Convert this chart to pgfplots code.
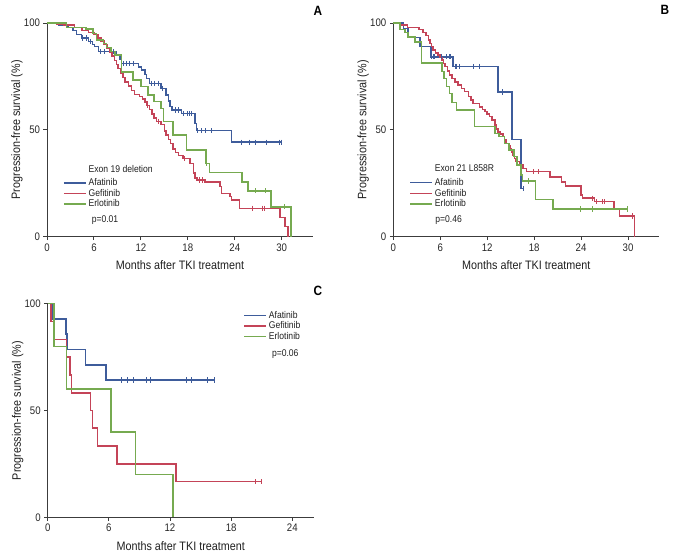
\documentclass[border=0pt]{standalone}
\usepackage{pgfplots}
\pgfplotsset{compat=1.18}
\usepackage{fontspec}
\setmainfont{Liberation Sans}[FakeStretch=0.88]
\definecolor{cblue}{RGB}{62,92,155}
\definecolor{cred}{RGB}{196,68,88}
\definecolor{cgreen}{RGB}{118,170,80}
\definecolor{axgray}{RGB}{60,60,60}
\pgfplotsset{
  kmbase/.style={
    scale only axis, width=266bp, height=213.7bp,
    axis x line=bottom, axis y line=left,
    axis line style={-, axgray, line width=1bp},
    tick style={axgray, line width=0.9bp},
    tick align=outside, major tick length=3.5bp,
    ymin=0, ymax=100, ytick={0,50,100},
    xmin=0,
    clip=false,
    /pgf/number format/assume math mode=true,
    tick label style={font=\fontsize{11}{12}\selectfont, text=black!85},
    xlabel={Months after TKI treatment},
    ylabel={Progression-free survival (\%)},
    every axis x label/.style={at={(axis description cs:0.5,-0.132)}, anchor=center, font=\fontsize{12.3}{13}\selectfont, text=black!88},
    every axis y label/.style={at={(axis description cs:-0.113,0.5)}, rotate=90, anchor=center, font=\fontsize{12.3}{13}\selectfont, text=black!88},
    legend style={draw=none, fill=none, font=\fontsize{9.8}{10}\selectfont, anchor=north west, row sep=-2pt, text=black!88, inner sep=0pt},
    legend cell align=left,
    legend image code/.code={\draw[##1] (0bp,0bp) -- (22bp,0bp);},
  },
  km/.style={const plot, line width=1.5bp, color=#1, no marks},
  cens/.style={only marks, mark=|, mark size=2.6bp, mark options={line width=1bp}, color=#1, forget plot},
}
\begin{document}
\begin{tikzpicture}
\path[use as bounding box] (0,0) rectangle (678bp,559bp);

% ---------------- Panel A ----------------
\begin{axis}[kmbase, at={(47bp,322.3bp)}, anchor=south west, xmax=34, xtick={0,6,...,30},
  legend style={at={(0.06,0.345)}}]
\addlegendimage{empty legend}\addlegendentry{\raisebox{3bp}{Exon 19 deletion}}
\addplot[km=cblue] coordinates {
(0,100)(1.5,99)(2.7,98)(3.3,96.5)(3.8,94.5)(4.4,93)(5.3,91.3)(5.8,90)(6.1,88.9)(6.6,86.6)
(8.9,85)(9.3,83)(9.5,81)(11.7,79.5)(12.1,78)(12.5,76)(12.7,74)(13.1,71.8)(14.6,69.4)
(15.2,66.3)(15.5,63.5)(15.7,61)(16.0,59.3)(17.2,57.7)(18.9,53)(19.1,49.6)(23.6,44.2)(30.1,44.2)};
\addlegendentry{Afatinib}
\addplot[km=cred] coordinates {
(0,100)(1.2,99.5)(2.2,99)(3.5,98)(4.5,96.5)(5.3,95.5)(6.0,94.5)(6.5,93)(6.9,91.5)(7.3,90)
(7.7,88)(8.0,86.5)(8.3,84.5)(8.6,82.5)(8.9,80.5)(9.1,78.8)(9.4,76.5)(9.7,74.5)(10.0,72.5)
(10.4,70.5)(10.8,68.5)(11.2,66.5)(11.8,65.5)(12.2,64.5)(12.5,63)(12.8,61.5)(13.1,59.5)
(13.4,57.5)(13.7,55.5)(14.0,54)(14.6,52.5)(15.0,49.5)(15.2,47.5)(15.5,45.5)(15.8,43.5)
(16.1,41)(16.4,39.5)(16.8,38)(17.4,36.5)(18.3,34.3)(18.7,29.7)(18.9,27.5)(19.2,26.5)
(20.2,25.7)(22.1,23.4)(22.3,20.3)(23.4,18.7)(23.6,17.2)(24.6,13.3)(29.8,9)(30.4,4.7)(30.8,0)(30.8,0)};
\addlegendentry{Gefitinib}
\addplot[km=cgreen] coordinates {
(0,100)(2.5,98)(5.0,97.3)(5.9,95.2)(6.3,92)(7.2,90.5)(7.6,88.5)(8.2,86.6)(8.7,85)
(9.5,77)(11.0,73.3)(12.0,70.2)(12.9,66.3)(13.7,63.2)(14.6,60)(14.9,53.8)(16.1,47.6)
(17.8,40.6)(20.3,34.3)(20.8,30)(24.9,25.7)(25.7,21.5)(28.6,14)(31.2,0)(31.2,0)};
\addlegendentry{Erlotinib}
\addplot[cens=cblue] coordinates {
(4.5,93)(5.0,93)(5.5,91.3)(6.9,86.6)(7.3,86.6)(8.5,86.6)(9.8,81)(10.2,81)(10.6,81)(11.0,81)
(13.4,71.8)(13.8,71.8)(14.2,71.8)(14.7,69.4)(16.4,59.3)(16.8,59.3)(17.5,57.7)(17.9,57.7)
(18.2,57.7)(18.5,57.7)(19.3,49.6)(19.7,49.6)(20.3,49.6)(21.0,49.6)
(24.9,44.2)(25.9,44.2)(26.7,44.2)(28.1,44.2)(29.7,44.2)(30.0,44.2)};
\addplot[cens=cred] coordinates {(12.9,61.5)(14.2,54)(17.6,36.5)(19.5,26.5)(19.9,26.5)(26.3,13.3)(27.6,13.3)(27.8,13.3)};
\addplot[cens=cgreen] coordinates {(20.4,34.3)(26.7,21.5)(27.9,21.5)(30.4,14)};
\node[anchor=west, font=\fontsize{9.8}{10}\selectfont, text=black!88] at (rel axis cs:0.155,0.078) {p=0.01};
\end{axis}

% ---------------- Panel B ----------------
\begin{axis}[kmbase, at={(393.3bp,322.3bp)}, anchor=south west, xmax=34, xtick={0,6,...,30},
  legend style={at={(0.06,0.345)}}]
\addlegendimage{empty legend}\addlegendentry{\raisebox{3bp}{Exon 21 L858R}}
\addplot[km=cblue] coordinates {
(0,100)(1.3,97.5)(1.9,93.3)(3.4,88.9)(4.8,84.2)(7.6,79.6)(13.4,67.7)(15.2,45.5)(16.3,22.6)(16.7,22.6)};
\addlegendentry{Afatinib}
\addplot[km=cred] coordinates {
(0,100)(0.8,99)(1.8,98)(3.3,97)(3.8,95.5)(4.2,94.2)(4.5,92)(4.7,90.5)(4.9,89)(5.1,87.4)
(5.4,86)(5.7,85)(6.0,83.8)(6.2,82.7)(6.4,81)(6.6,79.6)(6.9,77.5)(7.2,75.7)(7.5,74)(7.9,72.5)
(8.3,71)(8.7,69.4)(9.1,68)(9.6,65.5)(9.9,64)(10.2,62.4)(11.0,60.8)(11.4,59.5)(11.7,58.5)
(12.0,57.4)(12.3,56.2)(12.6,54.5)(13.0,52.3)(13.2,50.5)(13.4,49.1)(13.7,48)(14.0,46.8)
(14.2,45.2)(14.4,43.7)(14.7,42.5)(14.9,41.3)(15.1,39.7)(15.3,38.2)(15.5,36.6)(15.7,35.1)
(16.1,33.5)(16.6,32)(17.0,30.4)(20.0,28)(21.5,25.7)(22.0,23.7)(24.0,19.5)(24.2,18)(25.7,16.4)
(28.2,13)(28.9,9.7)(30.8,0)(30.8,0)};
\addlegendentry{Gefitinib}
\addplot[km=cgreen] coordinates {
(0,100)(0.85,97)(1.5,95.5)(1.9,93.5)(2.8,91)(3.6,81.3)(6.2,77.2)(6.5,74)(6.8,70.2)(7.2,67)
(7.5,62.8)(8.1,59.3)(10.4,51.5)(13.0,48.4)(13.5,46.8)(14.2,43.7)(14.8,40.6)(15.4,37.5)
(15.8,33.5)(16.3,28.9)(16.5,26.1)(18.2,17.5)(20.4,13)(29.9,13)};
\addlegendentry{Erlotinib}
\addplot[cens=cblue] coordinates {
(4.9,84.2)(5.1,84.2)(5.3,84.2)(6.2,84.2)(6.8,84.2)(7.2,84.2)(7.35,84.2)
(7.9,79.6)(8.1,79.6)(8.5,79.6)(10.2,79.6)(11.0,79.6)(14.0,67.7)(16.7,22.6)};
\addplot[cens=cred] coordinates {(17.9,30.4)(18.5,30.4)(25.5,18)(26.0,16.4)(26.8,16.4)(27.0,16.4)(30.6,9.7)};
\addplot[cens=cgreen] coordinates {(17.3,26.1)(23.9,13)(25.4,13)(29.9,13)};
\node[anchor=west, font=\fontsize{9.8}{10}\selectfont, text=black!88] at (rel axis cs:0.145,0.078) {p=0.46};
\end{axis}

% ---------------- Panel C ----------------
\begin{axis}[kmbase, at={(47.7bp,41.7bp)}, anchor=south west, height=213.6bp, xmax=26.1, xtick={0,6,...,24},
  every axis x label/.append style={at={(axis description cs:0.5,-0.133)}},
  legend style={at={(0.735,0.975)}}]
\addplot[km=cblue] coordinates {
(0,100)(0.4,92.9)(1.8,85.7)(1.9,78.6)(3.7,71.4)(5.7,64.3)(16.4,64.3)};
\addlegendentry{Afatinib}
\addplot[km=cred] coordinates {
(0,100)(0.33,91.7)(0.6,83.3)(1.86,75)(2.2,66.7)(2.35,58.3)(4.2,50)(4.4,41.7)(4.9,33.3)(6.8,25)(12.6,16.7)(21.0,16.7)};
\addlegendentry{Gefitinib}
\addplot[km=cgreen] coordinates {
(0,100)(0.6,80)(1.86,60)(6.2,40)(8.6,20)(12.3,0)(12.3,0)};
\addlegendentry{Erlotinib}
\addplot[cens=cblue] coordinates {(7.2,64.3)(7.85,64.3)(8.4,64.3)(9.7,64.3)(10.1,64.3)(13.6,64.3)(14.1,64.3)(15.7,64.3)(16.4,64.3)};
\addplot[cens=cred] coordinates {(20.4,16.7)(21.0,16.7)};
\node[anchor=west, font=\fontsize{9.8}{10}\selectfont, text=black!88] at (rel axis cs:0.83,0.765) {p=0.06};
\end{axis}

\node[font=\bfseries\fontsize{13.5}{13.5}\selectfont] at (318bp,548bp) {A};
\node[font=\bfseries\fontsize{13.5}{13.5}\selectfont] at (665bp,549bp) {B};
\node[font=\bfseries\fontsize{13.5}{13.5}\selectfont] at (318bp,268bp) {C};
\end{tikzpicture}
\end{document}
